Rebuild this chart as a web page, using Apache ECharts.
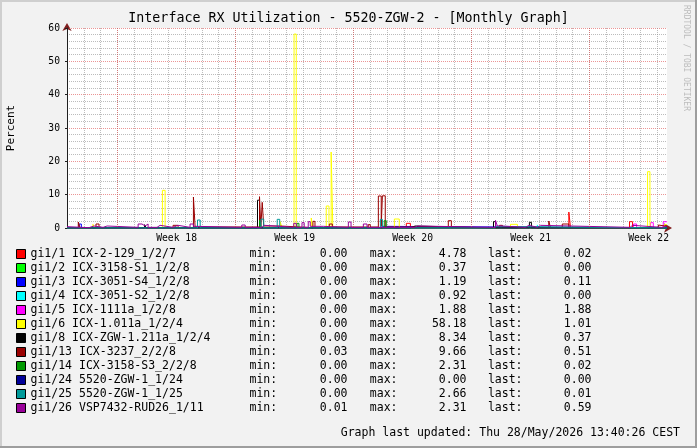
<!DOCTYPE html>
<html>
<head>
<meta charset="utf-8">
<script src="https://cdn.jsdelivr.net/npm/echarts@6/dist/echarts.min.js"></script>
<style>
html, body { margin: 0; padding: 0; background: #f2f2f2; }
#chart { width: 697px; height: 448px; }
</style>
</head>
<body>
<div id="chart"></div>
<script>
// x values are days, 0 = start of week 18 (Monday 00:00)
var names = [
  "gi1/1 ICX-2-129_1/2/7",
  "gi1/2 ICX-3158-S1_1/2/8",
  "gi1/3 ICX-3051-S4_1/2/8",
  "gi1/4 ICX-3051-S2_1/2/8",
  "gi1/5 ICX-1111a_1/2/8",
  "gi1/6 ICX-1.011a_1/2/4",
  "gi1/8 ICX-ZGW-1.211a_1/2/4",
  "gi1/13 ICX-3237_2/2/8",
  "gi1/14 ICX-3158-S3_2/2/8",
  "gi1/24 5520-ZGW-1_1/24",
  "gi1/25 5520-ZGW-1_1/25",
  "gi1/26 VSP7432-RUD26_1/11"
];
var colors = ["#ff0000", "#00ff00", "#0000ff", "#00ffff", "#ff00ff", "#ffff00",
  "#000000", "#990000", "#009900", "#000099", "#009999", "#990099"];
var minVals = ["0.00", "0.00", "0.00", "0.00", "0.00", "0.00", "0.00", "0.03", "0.00", "0.00", "0.00", "0.01"];
var maxVals = ["4.78", "0.37", "1.19", "0.92", "1.88", "58.18", "8.34", "9.66", "2.31", "0.00", "2.66", "2.31"];
var lastVals = ["0.02", "0.00", "0.11", "0.00", "1.88", "1.01", "0.37", "0.51", "0.02", "0.00", "0.01", "0.59"];
var weekLabels = ["Week 18", "Week 19", "Week 20", "Week 21", "Week 22"];

// step data: [day, value] = value holds from that day on
var red = [[-3, 0.03], [17.13, 1.4], [17.37, 0.03], [26.77, 4.78], [26.87, 0.03], [30.37, 1.9], [30.55, 0.03], [32.59, 0.02]];
var lime = [[-3, 0], [8.42, 0.37], [8.5, 0], [32.59, 0]];
var blue = [[-3, 0.04], [-2.29, 1.19], [-2.15, 0.04], [15.6, 0.5], [15.72, 0.04], [32.45, 0.11], [32.59, 0.11]];
var cyan = [[-3, 0], [24.9, 0.92], [25.0, 0], [32.59, 0]];
var magenta = [[-3, 0.02], [22.42, 1.0], [22.53, 0.02], [30.61, 1.2], [30.79, 0.02], [31.62, 1.6], [31.78, 0.02], [32.37, 1.88], [32.59, 1.88]];
var yellow = [[-3, 0.05], [-1.46, 1.1], [-1.38, 0.05], [2.66, 11.3], [2.82, 0.05], [9.65, 1.9], [9.75, 0.05],
  [10.47, 58.18], [10.6, 0.05], [11.49, 3.0], [11.59, 0.05], [12.38, 6.6], [12.54, 0.05], [12.67, 22.8], [12.77, 0.05],
  [16.42, 2.7], [16.71, 0.05], [23.31, 1.1], [23.72, 0.05], [31.44, 16.9], [31.58, 0.05], [32.45, 1.01], [32.59, 1.01]];
var black = [[-3, 0.02], [1.6, 1.0], [1.7, 0.02], [8.3, 8.34], [8.42, 0.02], [17.37, 0.6], [17.65, 0.02],
  [22.3, 1.9], [22.42, 0.02], [24.43, 1.7], [24.55, 0.02], [32.45, 0.37], [32.59, 0.37]];
var darkred = [[-3, 0.1], [-2.33, 1.8], [-2.23, 0.1], [-1.28, 1.2], [-1.1, 0.1], [0.3, 0.5], [0.4, 0.1], [3.29, 0.8], [3.59, 0.1],
  [4.5, 9.3], [4.6, 0.3], [8.42, 9.4], [8.5, 0.3], [8.58, 7.7], [8.67, 0.6], [9.65, 0.1], [11.59, 2.0], [11.71, 0.1],
  [12.56, 1.2], [12.74, 0.3], [14.87, 1.0], [14.99, 0.3], [15.47, 9.6], [15.64, 0.5], [15.71, 9.66], [15.88, 0.3],
  [19.62, 2.2], [19.8, 0.1], [22.65, 0.8], [22.83, 0.1], [25.58, 2.1], [25.68, 0.1], [26.38, 1.2], [26.77, 0.1],
  [32.08, 0.9], [32.19, 0.51], [32.59, 0.51]];
var green = [[-3, 0.02], [1.5, 0.5], [1.6, 0.02], [8.42, 2.31], [8.52, 0.02], [10.64, 1.4], [10.76, 0.02], [15.82, 2.2], [15.94, 0.02], [32.59, 0.02]];
var navy = [[-3, 0], [32.59, 0]];
var teal = [[-3, 0.01], [4.74, 2.4], [4.9, 0.01], [8.5, 2.66], [8.67, 0.01], [9.47, 2.6], [9.62, 0.01], [15.59, 2.6], [15.71, 0.01], [22.3, 0.5], [22.45, 0.01], [32.59, 0.01]];
var purple = [[-3, 0.4], [-2.9, 0.1], [-1.7, 0.6], [-1.4, 0.2], [-0.86, 0.6], [-0.62, 0.2], [1.22, 1.2], [1.45, 0.6], [1.63, 1.2], [1.81, 0.2],
  [2.34, 0.8], [2.52, 0.2], [3.29, 0.8], [3.59, 0.2], [4.3, 1.2], [4.5, 0.5], [4.72, 0.2], [7.37, 0.9], [7.57, 0.2], [8.55, 0.8], [8.72, 0.2],
  [10.45, 1.4], [10.6, 0.2], [10.94, 1.6], [11.07, 0.2], [11.31, 1.9], [11.43, 0.5], [12.2, 0.2], [13.69, 1.8], [13.85, 0.2],
  [14.58, 1.2], [14.8, 0.2], [17.6, 0.6], [17.8, 0.2], [22.42, 2.31], [22.53, 0.6], [22.8, 0.2], [24.2, 0.8], [24.4, 0.2],
  [24.91, 0.8], [25.09, 0.2], [30.4, 0.8], [30.55, 0.2], [32.28, 0.59], [32.59, 0.59]];
var seriesData = [red, lime, blue, cyan, magenta, yellow, black, darkred, green, navy, teal, purple];

var mono = "DejaVu Sans Mono";
var GRID = "rgba(143,143,143,0.6)";
var MGRID = "rgba(222,79,79,0.6)";
var X_MIN = -3, X_MAX = 32.593;
var Y_MAX = 60;

function weekLabel(v) {
  var w = (v - 3.5) / 7;
  var k = Math.round(w);
  if (Math.abs(w - k) < 1e-6 && k >= 0 && k < weekLabels.length) return weekLabels[k];
  return "";
}

var myChart = echarts.init(document.getElementById("chart"));

var _series = names.map(function (n, i) {
  return {
    name: n,
    type: "line",
    step: "end",
    data: seriesData[i],
    symbol: "none",
    showSymbol: false,
    silent: true,
    z: 2,
    lineStyle: { width: 1, color: colors[i] },
    itemStyle: { color: colors[i] }
  };
});
// week start lines (major grid), drawn top -> bottom so the dots line up with the day grid
_series[0].markLine = {
  silent: true,
  symbol: ["none", "none"],
  label: { show: false },
  lineStyle: { color: MGRID, type: [1, 1], width: 1 },
  data: weekLabels.map(function (w, i) {
    return [{ xAxis: i * 7, yAxis: Y_MAX }, { xAxis: i * 7, yAxis: 0 }];
  })
};

var option = {
  animation: false,
  backgroundColor: "#f2f2f2",
  title: [{
    text: "Interface RX Utilization - 5520-ZGW-2 - [Monthly Graph]",
    left: "center",
    top: 12,
    padding: 0,
    textStyle: { fontFamily: mono, fontSize: 13.3, fontWeight: "normal", color: "#000" }
  }, {
    text: "Graph last updated: Thu 28/May/2026 13:40:26 CEST",
    right: 17,
    top: 427,
    padding: 0,
    textStyle: { fontFamily: mono, fontSize: 11.5, fontWeight: "normal", color: "#000" }
  }],
  grid: {
    left: 67, top: 28, width: 600, height: 200,
    show: true, backgroundColor: "#ffffff", borderWidth: 0,
    outerBoundsMode: "none"
  },
  legend: {
    orient: "vertical",
    left: 16,
    top: 247,
    padding: 0,
    itemGap: 0,
    itemWidth: 9,
    itemHeight: 9,
    icon: "rect",
    selectedMode: false,
    itemStyle: { borderColor: "#000", borderWidth: 1 },
    data: names,
    textStyle: {
      fontFamily: mono, fontSize: 11.5, color: "#000", lineHeight: 14,
      rich: {
        n: { width: 219, fontFamily: mono, fontSize: 11.5, lineHeight: 14 },
        m: { width: 40, fontFamily: mono, fontSize: 11.5, lineHeight: 14 },
        v: { width: 58, align: "right", fontFamily: mono, fontSize: 11.5, lineHeight: 14 },
        m2: { width: 50, align: "right", fontFamily: mono, fontSize: 11.5, lineHeight: 14 },
        v2: { width: 69, align: "right", fontFamily: mono, fontSize: 11.5, lineHeight: 14 },
        m3: { width: 56, align: "right", fontFamily: mono, fontSize: 11.5, lineHeight: 14 }
      }
    },
    formatter: function (name) {
      var i = names.indexOf(name);
      return "{n|" + name + "}{m|min:}{v|" + minVals[i] + "}{m2|max:}{v2|" + maxVals[i] +
        "}{m3|last:}{v2|" + lastVals[i] + "}";
    }
  },
  xAxis: [{
    type: "value",
    min: X_MIN, max: X_MAX, interval: 1,
    position: "bottom",
    z: 1,
    axisLine: { show: true, onZero: false, lineStyle: { color: "#1f1f1f", width: 1 } },
    axisTick: { show: false },
    axisLabel: { show: false },
    splitLine: { show: true, showMaxLine: false, lineStyle: { color: GRID, type: [1, 1], width: 1 } }
  }, {
    type: "value",
    min: X_MIN, max: X_MAX, interval: 0.5,
    position: "bottom",
    z: 0,
    axisLine: {
      show: true, onZero: false,
      symbol: ["none", "arrow"], symbolSize: [7, 8], symbolOffset: [0, 5],
      lineStyle: { color: "#801f1f", width: 1 }
    },
    axisTick: { show: false },
    axisLabel: { show: true, formatter: weekLabel, fontFamily: mono, fontSize: 9.7, color: "#000", margin: 5 },
    splitLine: { show: false }
  }],
  yAxis: [{
    type: "value",
    min: 0, max: Y_MAX, interval: 10,
    position: "left",
    z: 1,
    name: "Percent",
    nameLocation: "middle",
    nameGap: 50,
    nameRotate: 90,
    nameTextStyle: { fontFamily: mono, fontSize: 11, color: "#000" },
    axisLine: { show: true, onZero: false, lineStyle: { color: "#1f1f1f", width: 1 } },
    axisTick: { show: true, length: 2, lineStyle: { color: "#1f1f1f" } },
    axisLabel: { fontFamily: mono, fontSize: 9.7, color: "#000", margin: 7 },
    splitLine: { show: true, lineStyle: { color: MGRID, type: [1, 1], width: 1 } },
    minorTick: { show: false, splitNumber: 5 },
    minorSplitLine: { show: true, lineStyle: { color: GRID, type: [1, 1], width: 1 } }
  }, {
    type: "value",
    min: 0, max: Y_MAX,
    position: "left",
    z: 0,
    axisLine: {
      show: true, onZero: false,
      symbol: ["none", "arrow"], symbolSize: [7, 8], symbolOffset: [0, 5],
      lineStyle: { color: "#801f1f", width: 1 }
    },
    axisTick: { show: false },
    axisLabel: { show: false },
    splitLine: { show: false }
  }],
  graphic: [
    { type: "rect", shape: { x: 0, y: 0, width: 697, height: 2 }, style: { fill: "#cfcfcf" }, silent: true },
    { type: "rect", shape: { x: 0, y: 0, width: 2, height: 448 }, style: { fill: "#cfcfcf" }, silent: true },
    { type: "rect", shape: { x: 0, y: 446, width: 697, height: 2 }, style: { fill: "#9e9e9e" }, silent: true },
    { type: "rect", shape: { x: 695, y: 0, width: 2, height: 448 }, style: { fill: "#9e9e9e" }, silent: true },
    {
      type: "text", x: 686.5, y: 5, rotation: -Math.PI / 2, silent: true,
      style: { text: "RRDTOOL / TOBI OETIKER", fontFamily: mono, fontSize: 8, fill: "#bdbdbd", align: "left", verticalAlign: "middle" }
    }
  ],
  series: _series
};

myChart.setOption(option);
</script>
</body>
</html>
